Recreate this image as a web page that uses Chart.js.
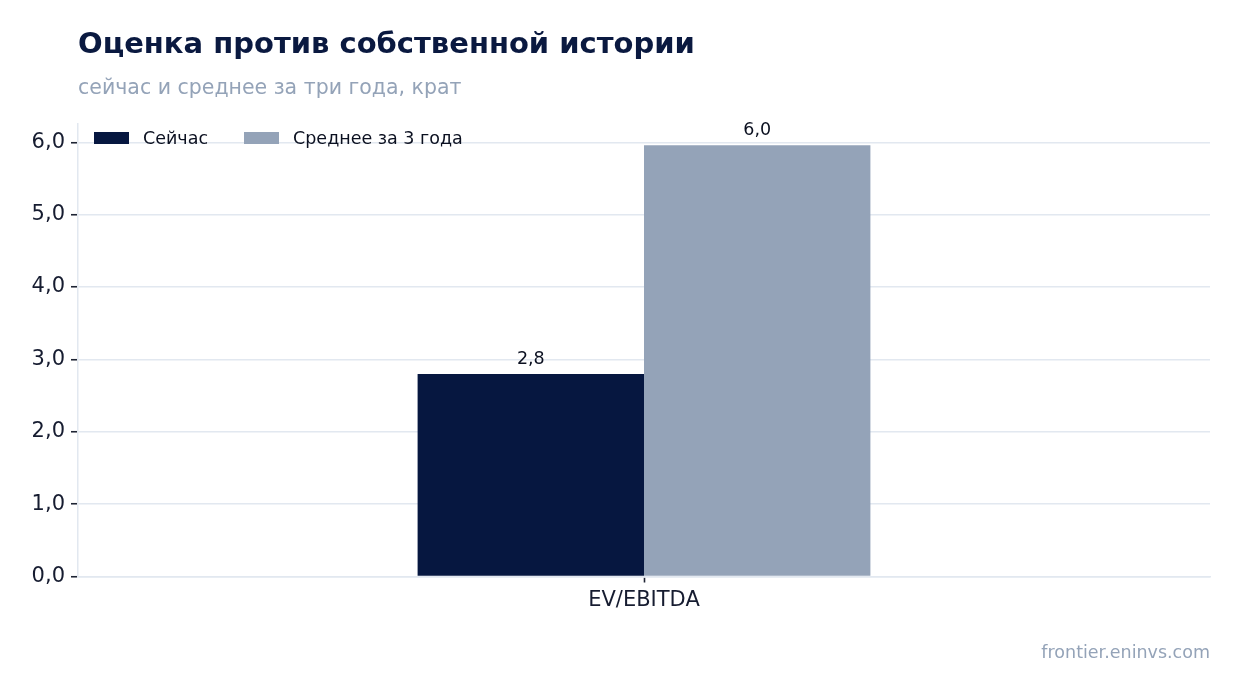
<!DOCTYPE html>
<html lang="ru">
<head>
<meta charset="utf-8">
<script src="https://cdn.jsdelivr.net/npm/chart.js@4.4.1/dist/chart.umd.min.js"></script>
<style>
  html, body { margin:0; padding:0; background:#ffffff; }
  #wrap { position:relative; width:1240px; height:693px; font-family:"DejaVu Sans", sans-serif; }
  #c { position:absolute; left:0; top:0; }
  #title { position:absolute; left:78px; top:26px; font-size:29px; font-weight:bold; color:#0a1940; white-space:nowrap; line-height:1.2; }
  #subtitle { position:absolute; left:78px; top:75px; font-size:20.5px; color:#94a3b8; white-space:nowrap; line-height:1.2; }
  #legend { position:absolute; left:94px; top:128px; display:flex; align-items:center; font-size:17.5px; color:#0b1020; white-space:nowrap; }
  .li { display:flex; align-items:center; margin-right:36px; }
  .sw { width:35px; height:12px; margin-right:14px; }
  #footer { position:absolute; right:30px; top:642px; font-size:17.5px; color:#94a3b8; white-space:nowrap; line-height:1.2; }
</style>
</head>
<body>
<div id="wrap">
  <canvas id="c" width="1240" height="693"></canvas>
  <div id="title">Оценка против собственной истории</div>
  <div id="subtitle">сейчас и среднее за три года, крат</div>
  <div id="legend"></div>
  <div id="footer">frontier.eninvs.com</div>
</div>
<script>
const categories = ["EV/EBITDA"];
const seriesNames = ["Сейчас", "Среднее за 3 года"];
const nowValues = [2.8];
const avgValues = [5.96];
const seriesColors = ["#061740", "#94a3b8"];
const yTicks = [0, 1, 2, 3, 4, 5, 6];

const fmt = v => v.toFixed(1).replace('.', ',');

const valueLabels = {
  id: 'valueLabels',
  afterDatasetsDraw(chart) {
    const ctx = chart.ctx;
    ctx.save();
    ctx.font = '17.5px "DejaVu Sans"';
    ctx.fillStyle = '#0b1020';
    ctx.textAlign = 'center';
    ctx.textBaseline = 'bottom';
    chart.data.datasets.forEach((ds, i) => {
      chart.getDatasetMeta(i).data.forEach((bar, j) => {
        ctx.fillText(fmt(ds.data[j]), bar.x, bar.y - 6);
      });
    });
    ctx.restore();
  }
};

const chart = new Chart(document.getElementById('c'), {
  type: 'bar',
  data: {
    labels: categories,
    datasets: [
      { label: seriesNames[0], data: nowValues, backgroundColor: seriesColors[0], borderWidth: 0 },
      { label: seriesNames[1], data: avgValues, backgroundColor: seriesColors[1], borderWidth: 0 }
    ]
  },
  options: {
    responsive: false,
    animation: false,
    devicePixelRatio: 1,
    events: [],
    layout: { padding: { top: 123.5, right: 30, bottom: 0, left: 0 } },
    datasets: { bar: { categoryPercentage: 0.4, barPercentage: 1.0 } },
    plugins: { legend: { display: false }, tooltip: { enabled: false }, title: { display: false } },
    scales: {
      x: {
        afterFit(s) { s.height = 116.5; },
        grid: { offset: false, drawOnChartArea: false, drawTicks: true, tickLength: 6, tickColor: '#1e2433', tickWidth: 1.6 },
        border: { display: true, color: '#e2e8f0', width: 1.5 },
        ticks: { color: '#161c30', font: { family: '"DejaVu Sans"', size: 21 }, padding: 5 }
      },
      y: {
        min: 0, max: 6.26,
        afterFit(s) { s.width = 78; },
        afterBuildTicks(s) { s.ticks = yTicks.map(v => ({ value: v })); },
        grid: { color: '#e2e8f0', lineWidth: 1.5, drawTicks: true, tickLength: 7, tickColor: '#1e2433', tickWidth: 1.6 },
        border: { display: true, color: '#e2e8f0', width: 1.5 },
        ticks: { color: '#161c30', font: { family: '"DejaVu Sans"', size: 21 }, padding: 6, callback: v => fmt(v) }
      }
    }
  },
  plugins: [valueLabels]
});

const legend = document.getElementById('legend');
chart.data.datasets.forEach(ds => {
  const li = document.createElement('div'); li.className = 'li';
  const sw = document.createElement('div'); sw.className = 'sw'; sw.style.background = ds.backgroundColor;
  const t = document.createElement('span'); t.textContent = ds.label;
  li.appendChild(sw); li.appendChild(t); legend.appendChild(li);
});
</script>
</body>
</html>
